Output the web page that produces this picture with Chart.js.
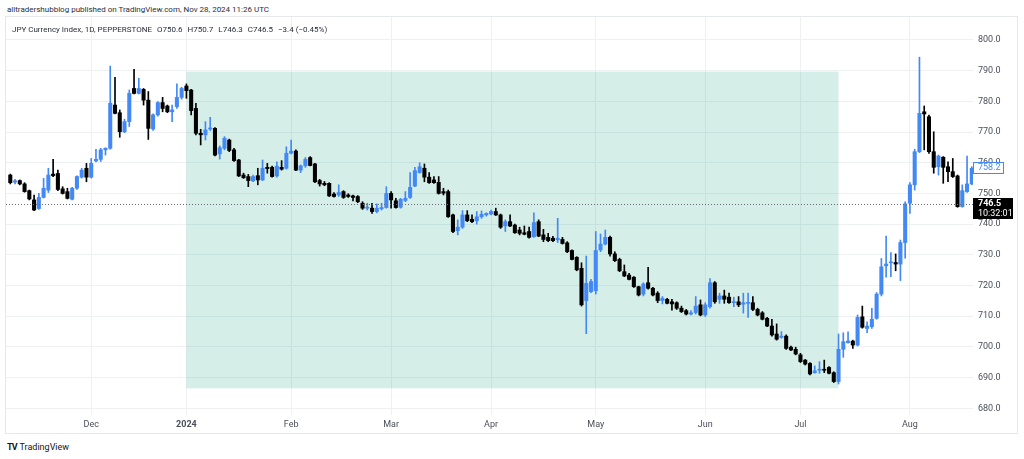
<!DOCTYPE html>
<html>
<head>
<meta charset="utf-8">
<script src="https://cdn.jsdelivr.net/npm/chart.js@4/dist/chart.umd.min.js"></script>
<style>
  body { margin: 0; width: 1024px; height: 459px; background: #fff; position: relative; overflow: hidden;
         font-family: Roboto, "Liberation Sans", sans-serif; color: #131722; }
  #hdr { position: absolute; left: 7px; top: 5px; font-size: 8px; color: #2a2e39; white-space: nowrap; }
  #frame { position: absolute; left: 5px; top: 16px; width: 1013px; height: 418px; border: 1px solid #e6e8ee; box-sizing: border-box; }
  #wrap { position: absolute; left: 6px; top: 17px; width: 1011px; height: 416px; }
  #legend { position: absolute; left: 12px; top: 25px; font-size: 8px; color: #2a2e39; white-space: nowrap; }
  #legend span { margin-left: 3px; }
  #logo { position: absolute; left: 7px; top: 442px; font-size: 9px; color: #131722; white-space: nowrap; }
  #logo b { letter-spacing: -1px; margin-right: 3px; }
</style>
</head>
<body>
<div id="hdr">alltradershubblog published on TradingView.com, Nov 28, 2024 11:26 UTC</div>
<div id="frame"></div>
<div id="wrap"><canvas id="chart"></canvas></div>
<div id="legend">JPY Currency Index, 1D, PEPPERSTONE <span>O750.6</span> <span>H750.7</span> <span>L746.3</span> <span>C746.5</span> <span>−3.4 (−0.45%)</span></div>
<div id="logo"><b>TV</b>TradingView</div>
<script>
// daily candles, [open, high, low, close]
const nov = [
  [756.0,756.3,753.1,753.5],[753.7,754.6,753.1,754.1],[754.2,754.4,752.8,753.1],[753.1,753.5,750.4,750.6],
  [750.9,751.1,747.9,748.2],[747.9,749.5,744.4,744.6],[745.1,750.0,744.8,748.7],[748.7,754.9,748.5,751.7],
  [751.1,758.2,750.3,756.0],[756.3,761.1,755.5,755.8],[756.5,757.6,750.9,751.3],[751.5,752.2,749.8,750.0],
  [750.6,751.7,748.2,748.4],[748.1,752.0,747.9,751.7],[751.7,755.7,751.3,755.5],[755.3,758.2,755.0,757.6],
  [758.2,759.8,753.8,755.3]
];
const dec = [
  [755.3,761.4,755.0,759.8],[760.6,764.4,760.3,761.1],[761.1,764.7,760.4,764.2],[764.2,764.9,762.5,764.7],
  [764.7,791.5,764.4,779.4],[778.8,787.8,775.9,776.1],[776.3,777.2,768.3,770.1],[770.1,774.2,769.8,773.4],
  [773.4,783.7,771.8,782.6],[784.2,790.4,782.4,782.6],[782.6,787.5,782.4,784.2],[783.9,784.2,778.8,780.4],
  [780.4,783.2,767.6,771.2],[771.0,775.9,770.5,775.6],[775.6,779.9,775.2,779.6],[779.6,781.3,776.6,777.7],
  [778.5,778.8,776.3,776.6],[776.6,778.8,773.4,777.2],[778.3,785.7,777.7,781.3],[781.3,784.6,780.7,784.2]
];
const jan = [
  [785.0,785.7,781.0,783.5],[783.7,783.9,775.6,777.0],[777.7,779.4,769.1,769.6],[769.6,770.9,765.8,769.1],
  [769.1,773.4,767.4,770.7],[771.0,774.8,770.5,771.3],[771.2,771.5,762.2,762.5],[762.9,765.5,761.2,764.9],
  [764.7,768.5,764.2,768.0],[767.4,767.7,763.6,764.0],[764.2,764.7,760.4,760.7],[760.9,761.1,755.5,755.7],
  [756.0,756.6,754.9,755.1],[755.5,756.2,752.2,754.2],[754.1,756.0,753.8,755.5],[755.8,758.2,752.8,754.4],
  [754.4,760.9,754.2,758.2],[758.5,759.8,756.6,758.1],[758.5,758.9,755.3,755.5],[755.7,760.3,755.3,758.9],
  [758.5,760.7,757.6,757.9],[758.2,765.2,757.9,763.1]
];
const feb = [
  [763.1,767.4,762.9,763.8],[763.8,764.2,757.4,757.6],[757.6,759.3,756.8,759.0],[759.0,761.7,758.5,761.1],
  [761.7,762.0,759.0,759.1],[759.6,759.8,753.5,753.8],[754.2,754.6,752.4,753.1],[753.3,753.9,752.5,752.8],
  [753.3,753.5,749.0,749.2],[749.8,750.3,748.8,749.0],[749.5,752.8,749.0,750.3],[750.6,750.9,748.4,748.7],
  [749.5,749.9,748.7,749.0],[749.2,749.5,747.6,748.7],[749.0,749.3,747.0,747.3],[746.8,747.3,744.8,745.2],
  [745.2,746.8,744.6,745.5],[745.2,746.8,743.5,744.1],[744.1,746.6,743.7,745.2],[745.0,746.8,744.6,745.4],
  [745.4,752.2,745.2,750.0]
];
const mar = [
  [750.0,750.6,745.2,747.9],[747.6,748.4,745.2,745.4],[745.5,748.4,745.2,748.1],[747.7,750.6,747.3,748.4],
  [748.7,756.8,748.4,752.0],[752.4,758.5,752.2,757.4],[756.8,760.0,756.6,758.7],[758.2,759.6,753.8,755.3],
  [755.3,756.8,753.3,753.5],[754.4,755.5,753.3,753.5],[753.6,755.5,749.8,750.0],[750.6,751.7,749.5,750.1],
  [750.6,751.1,742.2,742.4],[743.0,743.3,737.2,737.6],[737.9,741.4,736.5,739.0],[739.0,744.4,738.6,743.0],
  [743.0,744.4,740.8,741.1],[741.6,743.0,740.5,740.8],[741.1,744.1,740.0,742.4],[742.4,744.3,741.9,743.2],
  [743.0,743.7,742.6,743.5]
];
const apr = [
  [743.3,744.6,743.0,744.1],[744.1,745.2,742.8,743.0],[743.0,743.3,738.6,739.0],[739.4,741.4,737.6,740.8],
  [740.8,743.0,739.2,739.4],[739.7,740.0,737.0,737.2],[738.1,739.0,736.5,737.0],[737.2,739.4,736.5,736.7],
  [737.6,739.0,735.4,735.7],[735.9,743.7,735.7,740.5],[740.8,741.4,735.9,736.1],[736.5,738.3,734.3,735.0],
  [735.7,737.0,734.3,734.6],[735.4,736.0,734.3,734.6],[734.9,741.9,734.0,735.4],[735.0,735.7,733.5,733.7],
  [733.9,734.3,730.7,731.0],[731.4,731.6,728.3,728.5],[729.2,729.4,724.8,725.1],[725.6,727.4,713.3,713.7],
  [715.1,729.6,704.3,720.7],[718.0,722.0,717.7,721.3]
];
const may = [
  [718.3,737.6,717.2,731.4],[731.6,736.8,731.0,733.5],[733.5,738.1,733.2,735.7],[735.7,736.1,729.6,730.3],
  [730.3,731.0,727.8,728.1],[728.5,728.9,724.5,724.8],[724.5,726.7,722.9,723.1],[723.4,724.0,721.8,722.0],
  [722.7,722.9,719.4,719.6],[719.6,719.8,716.6,716.9],[717.2,720.9,716.6,720.5],[720.9,725.9,718.8,719.1],
  [719.1,719.4,716.6,716.9],[717.5,718.0,714.4,715.1],[715.1,716.4,714.0,715.8],[715.5,715.8,714.0,714.2],
  [714.7,715.5,712.0,714.0],[714.4,714.7,712.2,712.6],[712.6,713.3,711.2,711.5],[711.8,712.2,710.4,710.7],
  [710.7,711.8,710.4,711.1],[711.2,716.4,710.7,713.3],[713.7,715.3,710.1,710.4]
];
const jun = [
  [710.4,714.4,709.9,713.7],[713.1,722.3,712.6,720.9],[720.9,721.3,714.2,714.7],[715.5,717.5,714.2,716.6],
  [716.6,718.5,714.2,715.5],[716.2,717.5,714.2,714.4],[714.4,716.2,713.1,714.7],[714.7,716.4,713.1,713.7],
  [713.9,717.5,711.0,714.4],[714.2,717.5,709.6,714.4],[714.4,716.4,711.8,712.2],[712.2,712.6,710.1,710.4],
  [711.1,711.5,708.8,709.0],[709.3,709.6,706.6,706.8],[706.8,709.0,703.5,703.9],[704.2,707.5,702.2,702.5],
  [703.1,705.0,702.8,703.5],[703.5,703.9,699.2,699.5],[699.9,700.3,698.8,699.0],[699.2,699.9,697.4,697.7]
];
const jul = [
  [697.4,697.9,694.9,695.2],[695.7,695.9,694.1,694.4],[694.6,694.9,690.9,691.2],[691.6,693.8,691.4,692.2],
  [692.4,695.2,691.4,692.7],[692.7,695.7,691.6,692.4],[693.3,693.6,691.2,691.4],[691.6,691.9,688.4,688.7],
  [688.7,704.2,687.9,699.2],[699.2,704.6,696.6,701.7],[701.4,704.9,701.2,701.9],[701.9,702.2,699.5,700.6],
  [700.6,710.4,700.3,709.6],[709.8,713.3,706.1,706.4],[706.0,708.2,704.6,706.8],[706.6,712.6,706.0,709.0],
  [709.3,717.7,709.0,717.2],[717.2,728.8,716.6,726.1],[726.4,736.1,722.7,727.0],[727.4,730.7,722.9,727.7],
  [727.5,730.3,724.8,727.0],[727.0,734.8,721.6,734.0],[734.0,747.3,728.9,746.6]
];
const aug = [
  [746.8,753.5,743.5,752.8],[752.8,764.4,751.1,763.6],[763.6,794.4,763.3,776.1],[776.6,778.5,764.2,775.9],
  [775.0,775.5,763.0,763.6],[763.6,770.1,756.6,758.5],[758.7,762.5,756.0,762.2],[761.8,762.0,753.3,758.5],
  [758.7,760.3,753.8,757.1],[757.1,761.4,755.2,755.5],[755.7,756.0,745.5,745.7],[745.7,752.8,745.5,750.9],
  [750.6,762.2,750.3,753.1],[753.1,758.7,752.8,758.2]
];

const monthLabels = ['Dec', '2024', 'Feb', 'Mar', 'Apr', 'May', 'Jun', 'Jul', 'Aug'];
const monthStarts = [17, 37, 59, 80, 101, 123, 146, 166, 189];
const priceTicks = [680, 690, 700, 710, 720, 730, 740, 750, 760, 770, 780, 790, 800];

// highlighted range (rectangle drawing) and price lines
const boxFrom = 37, boxTo = 174, boxLow = 686.5, boxHigh = 789.7;
const lastPrice = 746.5, markPrice = 758.2;

const candles = [].concat(nov, dec, jan, feb, mar, apr, may, jun, jul, aug);
const upColor = '#4389f5';
const downColor = '#000000';
const colors = candles.map((c) => (c[3] >= c[0] ? upColor : downColor));

const drawings = {
  id: 'drawings',
  beforeDatasetsDraw(chart) {
    const { ctx, scales: { x, y } } = chart;
    ctx.save();
    ctx.fillStyle = 'rgba(0,150,110,0.16)';
    const x0 = x.getPixelForValue(boxFrom), x1 = x.getPixelForValue(boxTo);
    const y0 = y.getPixelForValue(boxHigh), y1 = y.getPixelForValue(boxLow);
    ctx.fillRect(x0, y0, x1 - x0, y1 - y0);
    ctx.restore();
  },
  afterDatasetsDraw(chart) {
    const { ctx, chartArea, scales: { y } } = chart;
    const py = Math.round(y.getPixelForValue(lastPrice)) + 0.5;
    ctx.save();
    ctx.strokeStyle = '#6a6d78';
    ctx.lineWidth = 1;
    ctx.setLineDash([1, 2]);
    ctx.beginPath();
    ctx.moveTo(chartArea.left, py);
    ctx.lineTo(chartArea.right, py);
    ctx.stroke();
    ctx.restore();
  },
  afterDraw(chart) {
    const { ctx, chartArea, scales: { y } } = chart;
    const left = chartArea.right;
    ctx.save();
    ctx.font = '9px Roboto';
    ctx.textBaseline = 'middle';
    // blue label
    const my = Math.round(y.getPixelForValue(markPrice));
    ctx.fillStyle = '#fff';
    ctx.fillRect(left + 0.5, my - 5.5, 30, 11);
    ctx.strokeStyle = upColor;
    ctx.lineWidth = 1;
    ctx.strokeRect(left + 0.5, my - 5.5, 30, 11);
    ctx.fillStyle = upColor;
    ctx.fillText(markPrice.toFixed(1), left + 5, my);
    // last price label
    const ly = Math.round(y.getPixelForValue(lastPrice));
    ctx.fillStyle = '#000';
    ctx.fillRect(left, ly - 6, 40, 21);
    ctx.fillStyle = '#fff';
    ctx.font = 'bold 9px Roboto';
    ctx.fillText(lastPrice.toFixed(1), left + 5, ly);
    ctx.font = '9px Roboto';
    ctx.fillText('10:32:01', left + 5, ly + 10);
    ctx.restore();
  }
};

function noPad(s) {
  s.paddingLeft = 0;
  s.paddingRight = 0;
  s.paddingTop = 0;
  s.paddingBottom = 0;
}

new Chart(document.getElementById('chart'), {
  type: 'bar',
  data: {
    datasets: [
      {
        label: 'body',
        data: candles.map((c, i) => ({ x: i, y: [c[0], c[3]] })),
        backgroundColor: colors,
        barThickness: 3.4,
        minBarLength: 1,
        grouped: false,
        order: 0
      },
      {
        label: 'wick',
        data: candles.map((c, i) => ({ x: i, y: [c[2], c[1]] })),
        backgroundColor: colors,
        barThickness: 1,
        grouped: false,
        order: 1
      }
    ]
  },
  options: {
    responsive: true,
    maintainAspectRatio: false,
    animation: false,
    layout: { padding: 0 },
    plugins: { legend: { display: false }, tooltip: { enabled: false } },
    scales: {
      x: {
        type: 'linear',
        offset: false,
        min: -0.9,
        max: 202.25,
        afterBuildTicks: (s) => { s.ticks = monthStarts.map((v) => ({ value: v })); },
        afterFit: (s) => { s.height = 18; noPad(s); },
        ticks: {
          autoSkip: false,
          maxRotation: 0,
          padding: 4,
          color: '#4a4e59',
          font: (c) => ({ family: 'Roboto', size: 9, weight: c.tick && c.tick.value === 37 ? 'bold' : 'normal' }),
          callback: (v) => monthLabels[monthStarts.indexOf(v)]
        },
        grid: { color: '#eef0f4', drawTicks: false, offset: false },
        border: { display: false }
      },
      y: {
        position: 'right',
        min: 677.81,
        max: 807.49,
        afterBuildTicks: (s) => { s.ticks = priceTicks.map((v) => ({ value: v })); },
        afterFit: (s) => { s.width = 44; noPad(s); },
        ticks: {
          padding: 5,
          color: '#4a4e59',
          font: { family: 'Roboto', size: 9 },
          callback: (v) => v.toFixed(1)
        },
        grid: { color: '#eef0f4', drawTicks: false },
        border: { display: false }
      }
    }
  },
  plugins: [drawings]
});
</script>
</body>
</html>
